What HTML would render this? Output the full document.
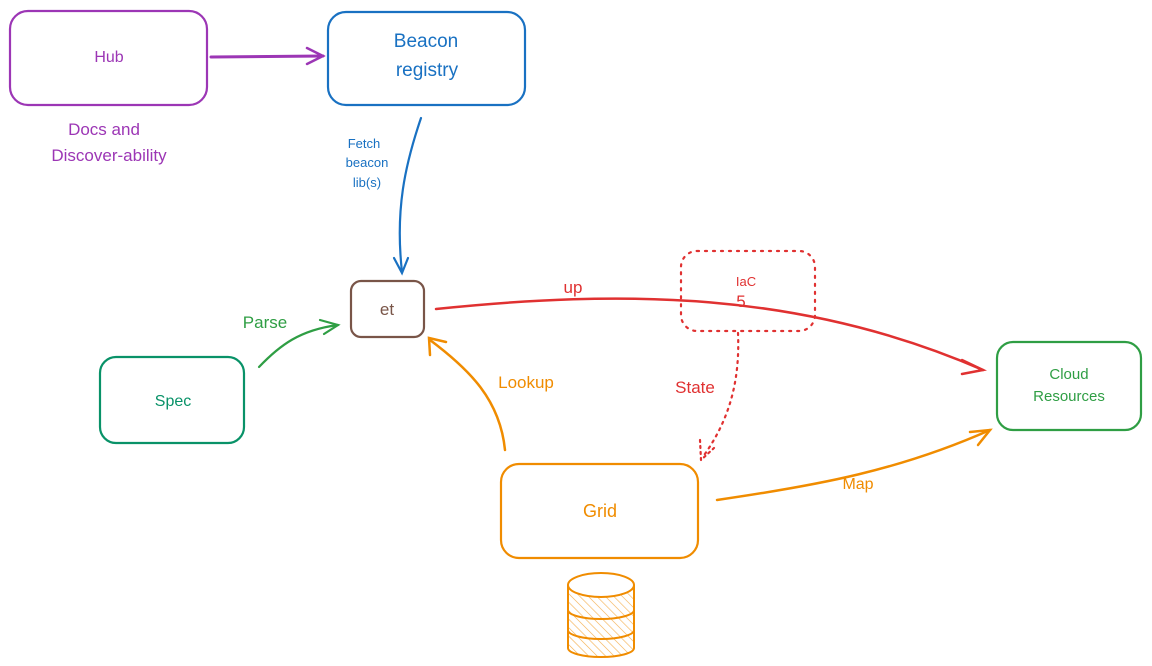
<!DOCTYPE html>
<html><head><meta charset="utf-8"><style>
html,body{margin:0;padding:0;background:#fff}
svg{display:block}
text{font-family:"Liberation Sans",sans-serif}
</style></head><body>
<svg width="1152" height="666" viewBox="0 0 1152 666" xmlns="http://www.w3.org/2000/svg">
<defs>
<pattern id="h" width="6" height="6" patternUnits="userSpaceOnUse" patternTransform="rotate(-45)">
<line x1="0" y1="0" x2="0" y2="6" stroke="#f08c00" stroke-width="1.2" opacity="0.7"/></pattern>
</defs>
<g fill="none" stroke-width="2.2" stroke-linecap="round">
<!-- Hub -->
<rect x="10" y="11" width="197" height="94" rx="18" stroke="#9c36b5"/>
<!-- Beacon -->
<rect x="328" y="12" width="197" height="93" rx="18" stroke="#1971c2"/>
<!-- et -->
<rect x="351" y="281" width="73" height="56" rx="10" stroke="#795548"/>
<!-- Spec -->
<rect x="100" y="357" width="144" height="86" rx="16" stroke="#099268"/>
<!-- Cloud -->
<rect x="997" y="342" width="144" height="88" rx="16" stroke="#2f9e44"/>
<!-- Grid -->
<rect x="501" y="464" width="197" height="94" rx="18" stroke="#f08c00"/>
<!-- IaC dotted -->
<rect x="681" y="251" width="134" height="80" rx="16" stroke="#e03131" stroke-dasharray="2 6"/>
<!-- arrows -->
<path d="M211 57 L323 56" stroke="#9c36b5" stroke-width="3"/>
<path d="M307 48 L323 56 L307 64" stroke="#9c36b5" stroke-width="2.5"/>
<path d="M421 118 C405 165 395 210 402 272" stroke="#1971c2"/>
<path d="M394 258 L402 273 L408 258" stroke="#1971c2"/>
<path d="M436 309 C620 290 800 290 983 370" stroke="#e03131" stroke-width="2.5"/>
<path d="M962 360 L983 370 L962 374" stroke="#e03131" stroke-width="2.5"/>
<path d="M259 367 C280 345 300 330 338 325" stroke="#2f9e44"/>
<path d="M320 320 L338 325 L324 334" stroke="#2f9e44"/>
<path d="M505 450 C500 400 470 370 430 340" stroke="#f08c00" stroke-width="2.5"/>
<path d="M430 355 L429 338 L446 342" stroke="#f08c00" stroke-width="2.5"/>
<path d="M717 500 C820 485 900 470 990 430" stroke="#f08c00" stroke-width="2.5"/>
<path d="M970 432 L990 430 L978 445" stroke="#f08c00" stroke-width="2.5"/>
<path d="M738 333 C740 380 730 420 702 458" stroke="#e03131" stroke-dasharray="2 5"/>
<path d="M700 440 L701 460 L714 448" stroke="#e03131" stroke-dasharray="2 4"/>
<!-- database -->
<g stroke="#f08c00" stroke-width="2">
<path d="M568 585 L568 648 A33 9 0 0 0 634 648 L634 585" fill="url(#h)"/>
<ellipse cx="601" cy="585" rx="33" ry="12" fill="#fff"/>
<path d="M568 610 A33 9 0 0 0 634 610"/>
<path d="M568 630 A33 9 0 0 0 634 630"/>
</g>
</g>
<g font-size="16" text-anchor="middle">
<text x="109" y="62" fill="#9c36b5">Hub</text>
<text x="104" y="135" fill="#9c36b5" font-size="17">Docs and</text>
<text x="109" y="161" fill="#9c36b5" font-size="17">Discover-ability</text>
<text x="426" y="47" fill="#1971c2" font-size="19">Beacon</text>
<text x="427" y="76" fill="#1971c2" font-size="19">registry</text>
<text x="364" y="148" fill="#1971c2" font-size="13">Fetch</text>
<text x="367" y="167" fill="#1971c2" font-size="13">beacon</text>
<text x="367" y="187" fill="#1971c2" font-size="13">lib(s)</text>
<text x="387" y="315" fill="#795548" font-size="17">et</text>
<text x="173" y="406" fill="#099268">Spec</text>
<text x="265" y="328" fill="#2f9e44" font-size="17">Parse</text>
<text x="573" y="293" fill="#e03131" font-size="17">up</text>
<text x="746" y="286" fill="#e03131" font-size="13">IaC</text>
<text x="741" y="307" fill="#e03131" font-size="17">5</text>
<text x="695" y="393" fill="#e03131" font-size="17">State</text>
<text x="526" y="388" fill="#f08c00" font-size="17">Lookup</text>
<text x="600" y="517" fill="#f08c00" font-size="18">Grid</text>
<text x="858" y="489" fill="#f08c00" font-size="16">Map</text>
<text x="1069" y="379" fill="#2f9e44" font-size="15">Cloud</text>
<text x="1069" y="401" fill="#2f9e44" font-size="15">Resources</text>
</g>
</svg>
</body></html>
